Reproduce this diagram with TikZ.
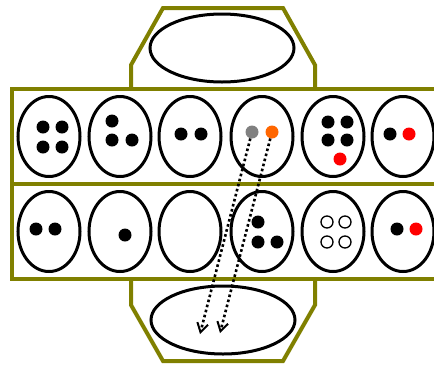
\documentclass[tikz,border=0pt]{standalone}
\usetikzlibrary{shapes.geometric,arrows.meta}
\definecolor{board}{RGB}{128,128,0}
\definecolor{seedorange}{RGB}{255,102,0}
\definecolor{seedgray}{RGB}{128,128,128}
\begin{document}
\begin{tikzpicture}[x=1pt,y=-1pt,
  wall/.style={draw=board,line width=4pt,line join=miter},
  pit/.style={draw=black,line width=3pt,ellipse,minimum width=62pt,minimum height=80pt,inner sep=0pt},
  store/.style={draw=black,line width=3pt,ellipse,minimum width=144pt,minimum height=68pt,inner sep=0pt},
  seed/.style={circle,fill=black,minimum size=13pt,inner sep=0pt},
  oseed/.style={circle,draw=black,line width=1.3pt,fill=white,minimum size=12pt,inner sep=0pt},
  move/.style={line width=2.6pt,dash pattern=on 2.6pt off 2.6pt,-{Straight Barb[length=9pt,width=11pt,line width=2pt]}}]
\useasboundingbox (0,0) rectangle (434,365);
\begin{scope}
\clip (0,0) rectangle (434,365);
% board outline
\draw[wall] (131,89) -- (131,65) -- (163,8) -- (283,8) -- (315,65) -- (315,89);
\draw[wall] (131,279) -- (131,305) -- (163,361) -- (283,361) -- (315,305) -- (315,279);
\draw[wall] (440,89) -- (12,89) -- (12,279) -- (440,279);
\draw[wall] (12,184) -- (440,184);
\end{scope}
% stores
\node[store] (storeA) at (222,48) {};
\node[store] (storeB) at (223,320) {};
% pits
\foreach \i/\x in {1/49,2/120,3/190,4/262,5/333,6/403}{
  \node[pit] (t\i) at (\x,136.5) {};
  \node[pit] (b\i) at (\x,231.5) {};
}
% top row seeds
\node[seed] (s11) at (43,127) {};
\node[seed] (s12) at (62,127) {};
\node[seed] (s13) at (43,147) {};
\node[seed] (s14) at (62,147) {};
\node[seed] (s21) at (112,121) {};
\node[seed] (s22) at (112,140) {};
\node[seed] (s23) at (132,140) {};
\node[seed] (s31) at (181,134) {};
\node[seed] (s32) at (201,134) {};
\node[seed,fill=seedgray] (g) at (252,132) {};
\node[seed,fill=seedorange] (o) at (272,132) {};
\node[seed] (s51) at (328,122) {};
\node[seed] (s52) at (347,122) {};
\node[seed] (s53) at (328,140) {};
\node[seed] (s54) at (347,140) {};
\node[seed,fill=red] (s55) at (340,159) {};
\node[seed] (s61) at (390,134) {};
\node[seed,fill=red] (s62) at (409,134) {};
% bottom row seeds
\node[seed] (u11) at (36,229) {};
\node[seed] (u12) at (55,229) {};
\node[seed] (u21) at (125,235) {};
\node[seed] (u41) at (258,222) {};
\node[seed] (u42) at (258,242) {};
\node[seed] (u43) at (277,242) {};
\node[oseed] (u51) at (327,222) {};
\node[oseed] (u52) at (345,222) {};
\node[oseed] (u53) at (327,242) {};
\node[oseed] (u54) at (345,242) {};
\node[seed] (u61) at (397,229) {};
\node[seed,fill=red] (u62) at (416,229) {};
% moves
\coordinate (m1) at (200,334);
\coordinate (m2) at (220,333);
\draw[move] (g) -- (m1);
\draw[move] (o) -- (m2);
\end{tikzpicture}
\end{document}
